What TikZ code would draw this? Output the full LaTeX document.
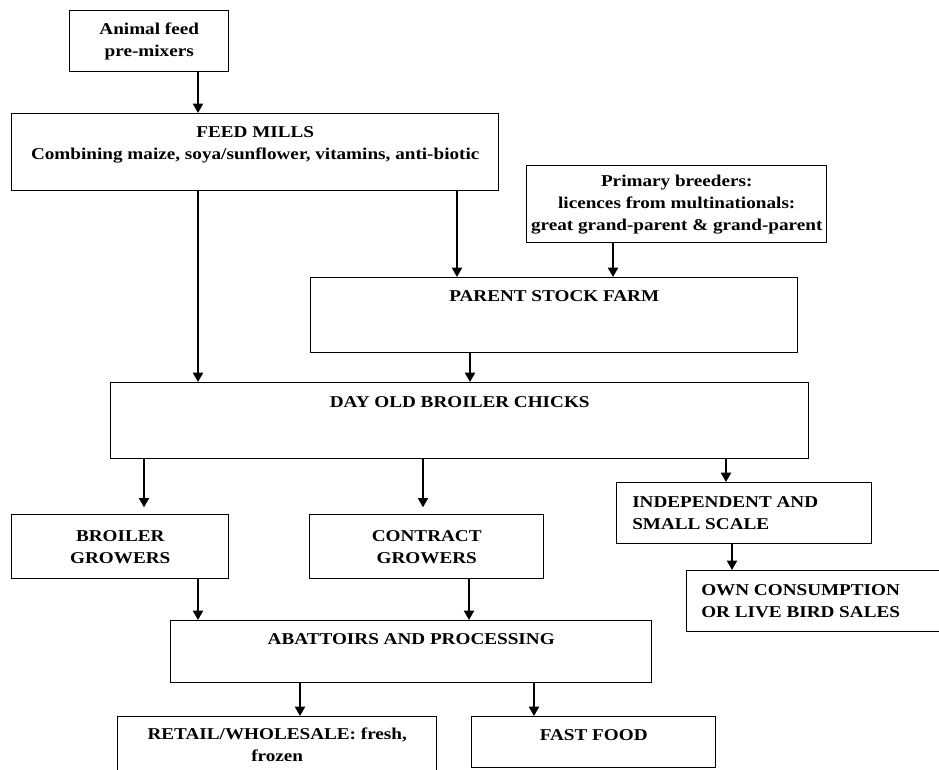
\documentclass[tikz,border=0pt]{standalone}
\usepackage{fontspec}
\setmainfont[FakeStretch=1.16]{Liberation Serif}
\usetikzlibrary{arrows.meta}
\begin{document}
\begin{tikzpicture}[x=0.75pt,y=-0.75pt,
  box/.style={draw, line width=1.1pt, anchor=north west, inner sep=0pt, align=center,
    font=\fontsize{12.4}{16.5}\selectfont\bfseries},
  lbl/.style={inner sep=0pt, anchor=north, align=center,
    font=\fontsize{12.4}{16.5}\selectfont\bfseries},
  lbll/.style={inner sep=0pt, anchor=west, align=left,
    font=\fontsize{12.4}{16.5}\selectfont\bfseries},
  arr/.style={line width=1.5pt, -{Triangle[width=7.5pt,length=7pt]}},
]
\useasboundingbox (0,0) rectangle (939,770);
\fill[white] (0,0) rectangle (939,770);
\clip (0,0) rectangle (939,770);

\node[box, minimum width=159*0.75pt, minimum height=61*0.75pt] (a) at (69,10) {Animal feed\\pre-mixers};
\node[box, minimum width=487*0.75pt, minimum height=77*0.75pt,
  label={[lbl, yshift=-9.75pt]north:FEED MILLS\\Combining maize, soya/sunflower, vitamins, anti-biotic}] (fm) at (11,113) {};
\node[box, minimum width=300*0.75pt, minimum height=77*0.75pt] (pb) at (526,165)
  {Primary breeders:\\licences from multinationals:\\great grand-parent \& grand-parent};
\node[box, minimum width=487*0.75pt, minimum height=75*0.75pt,
  label={[lbl, yshift=-9.75pt]north:PARENT STOCK FARM}] (ps) at (310,277) {};
\node[box, minimum width=698*0.75pt, minimum height=76*0.75pt,
  label={[lbl, yshift=-10.5pt]north:DAY OLD BROILER CHICKS}] (do) at (110,382) {};
\node[box, minimum width=217*0.75pt, minimum height=64*0.75pt] (bg) at (11,514) {BROILER\\GROWERS};
\node[box, minimum width=234*0.75pt, minimum height=64*0.75pt] (cg) at (309,514) {CONTRACT\\GROWERS};
\node[box, minimum width=255*0.75pt, minimum height=61*0.75pt,
  label={[lbll, xshift=12pt]west:INDEPENDENT AND\\SMALL SCALE}] (ind) at (616,482) {};
\node[box, minimum width=300*0.75pt, minimum height=61*0.75pt,
  label={[lbll, xshift=11.25pt]west:OWN CONSUMPTION\\OR LIVE BIRD SALES}] (own) at (686,570) {};
\node[box, minimum width=481*0.75pt, minimum height=62*0.75pt,
  label={[lbl, yshift=-9.75pt]north:ABATTOIRS AND PROCESSING}] (ab) at (170,620) {};
\node[box, minimum width=319*0.75pt, minimum height=90*0.75pt,
  label={[lbl, yshift=-9pt]north:RETAIL/WHOLESALE: fresh,\\frozen}] (rt) at (117,716) {};
\node[box, minimum width=244*0.75pt, minimum height=51*0.75pt,
  label={[lbl, yshift=-9.75pt]north:FAST FOOD}] (ff) at (471,716) {};

\coordinate (x198) at (198,0);
\coordinate (x457) at (457,0);
\coordinate (x613) at (613,0);
\coordinate (x470) at (470,0);
\coordinate (x144) at (144,0);
\coordinate (x423) at (423,0);
\coordinate (x726) at (726,0);
\coordinate (x732) at (732,0);
\coordinate (x469) at (469,0);
\coordinate (x300) at (300,0);
\coordinate (x534) at (534,0);

\draw[arr] (a.south -| x198) -- (fm.north -| x198);
\draw[arr] (fm.south -| x198) -- (do.north -| x198);
\draw[arr] (fm.south -| x457) -- (ps.north -| x457);
\draw[arr] (pb.south -| x613) -- (ps.north -| x613);
\draw[arr] (ps.south -| x470) -- (do.north -| x470);
\draw[arr, shorten >=5pt] (do.south -| x144) -- (bg.north -| x144);
\draw[arr, shorten >=5pt] (do.south -| x423) -- (cg.north -| x423);
\draw[arr] (do.south -| x726) -- (ind.north -| x726);
\draw[arr] (ind.south -| x732) -- (own.north -| x732);
\draw[arr] (bg.south -| x198) -- (ab.north -| x198);
\draw[arr] (cg.south -| x469) -- (ab.north -| x469);
\draw[arr] (ab.south -| x300) -- (rt.north -| x300);
\draw[arr] (ab.south -| x534) -- (ff.north -| x534);
\end{tikzpicture}
\end{document}
